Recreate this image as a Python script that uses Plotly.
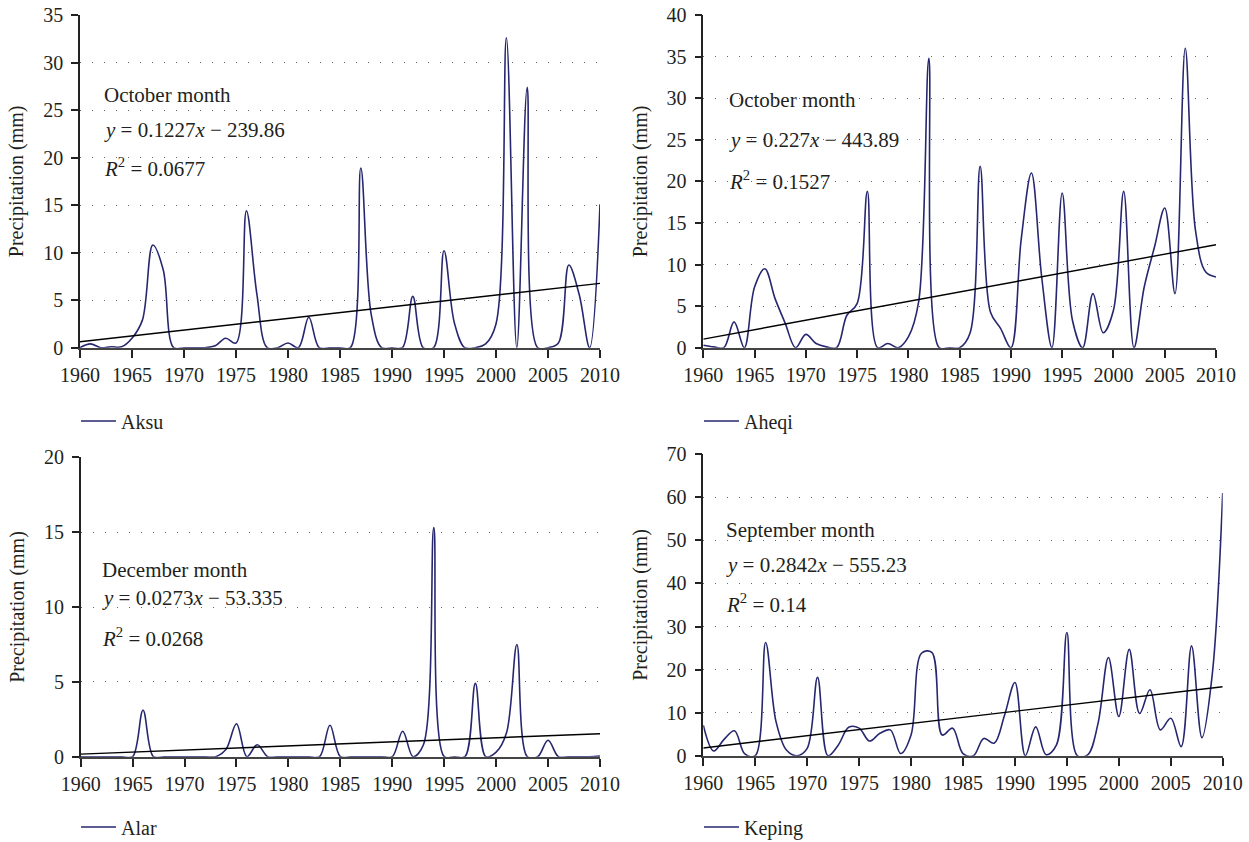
import plotly.graph_objects as go

years = list(range(1960, 2011))

stations = ["Aksu", "Aheqi", "Alar", "Keping"]

aksu = [0.0, 0.4, 0.0, 0.1, 0.1, 1.0, 2.9, 10.8, 8.2, 0.0,
        0.0, 0.0, 0.0, 0.2, 1.0, 0.5, 14.4, 5.7, 0.0, 0.0,
        0.5, 0.0, 3.2, 0.0, 0.0, 0.0, 0.0, 18.9, 3.5, 0.0,
        0.0, 0.0, 5.4, 0.0, 0.0, 10.2, 2.6, 0.0, 0.0, 0.4,
        2.5, 32.6, 0.0, 27.4, 0.0, 0.0, 0.5, 8.7, 5.6, 0.0, 15.1]

aheqi = [0.3, 0.1, 0.0, 3.1, 0.0, 7.3, 9.5, 5.9, 2.9, 0.0,
         1.6, 0.5, 0.1, 0.0, 3.9, 5.3, 18.8, 0.0, 0.5, 0.0,
         1.3, 5.5, 34.8, 0.0, 0.0, 0.0, 1.7, 21.8, 4.3, 2.3,
         0.0, 13.0, 21.0, 8.5, 0.0, 18.6, 3.3, 0.0, 6.5, 1.8,
         4.5, 18.8, 0.0, 7.3, 12.1, 16.8, 6.5, 36.0, 14.1, 9.1, 8.5]

alar = [0.0, 0.0, 0.0, 0.0, 0.0, 0.0, 3.1, 0.0, 0.0, 0.0,
        0.0, 0.0, 0.0, 0.0, 0.5, 2.2, 0.0, 0.8, 0.0, 0.0,
        0.0, 0.0, 0.0, 0.0, 2.1, 0.0, 0.0, 0.0, 0.0, 0.0,
        0.0, 1.7, 0.0, 0.8, 15.3, 0.0, 0.0, 0.0, 4.9, 0.0,
        0.3, 1.6, 7.5, 0.0, 0.0, 1.1, 0.0, 0.0, 0.0, 0.0, 0.05]

keping = [7.1, 1.1, 3.8, 5.8, 0.4, 0.0, 26.3, 7.9, 1.3, 0.0,
          1.7, 18.2, 0.0, 2.5, 6.6, 6.4, 3.4, 5.2, 6.0, 0.5,
          4.8, 23.8, 24.0, 4.8, 6.4, 0.5, 0.0, 4.0, 2.9, 9.4,
          17.0, 0.0, 6.7, 0.2, 2.5, 28.6, 0.0, 0.2, 7.5, 22.8,
          9.1, 24.7, 9.8, 15.3, 6.0, 8.7, 2.1, 25.5, 4.2, 19.0, 61.0]

series = [aksu, aheqi, alar, keping]

y_max = [35, 40, 20, 70]
y_dtick = [5, 5, 5, 10]
x_ticks = [1960, 1965, 1970, 1975, 1980, 1985, 1990, 1995, 2000, 2005, 2010]

month_labels = ["October month", "October month", "December month", "September month"]
slopes = [0.1227, 0.227, 0.0273, 0.2842]
intercepts = [-239.86, -443.89, -53.335, -555.23]
slope_txt = ["0.1227", "0.227", "0.0273", "0.2842"]
intercept_txt = ["239.86", "443.89", "53.335", "555.23"]
r2_txt = ["0.0677", "0.1527", "0.0268", "0.14"]

# ---------------- layout helpers (pixels -> paper) ----------------
W, H = 1249, 842
FONT = "Liberation Serif"
TXT = "#231f20"
LINE_COLOR = "#27276f"

def px_x(p):
    return p / W

def px_y(p):
    return 1 - p / H

# plot areas in pixels: (left, right, top, bottom)
areas = [(80, 600, 15, 347.7),
         (703.3, 1216, 15, 347.7),
         (80.7, 600, 457.3, 756.7),
         (703.3, 1222.7, 454.3, 755.7)]

# annotation anchor positions (pixels): x, [y month, y eq, y r2]
ann_pos = [(102, [95, 130, 167]),
           (727, [100, 140, 180]),
           (100, [570, 598, 637]),
           (724, [530, 565, 603])]

legend_pos = [(76, 421), (699, 421), (76, 827), (699, 827)]

fig = go.Figure()

for i in range(4):
    sfx = "" if i == 0 else str(i + 1)
    leg = "legend" if i == 0 else "legend" + str(i + 1)
    fig.add_trace(go.Scatter(
        x=years, y=series[i], mode="lines", name=stations[i],
        line=dict(color=LINE_COLOR, width=1.6, shape="spline", smoothing=1.0),
        xaxis="x" + sfx, yaxis="y" + sfx, legend=leg, showlegend=True))
    tx = [years[0], years[-1]]
    ty = [slopes[i] * x + intercepts[i] for x in tx]
    fig.add_trace(go.Scatter(
        x=tx, y=ty, mode="lines", line=dict(color="black", width=1.4),
        xaxis="x" + sfx, yaxis="y" + sfx, showlegend=False, hoverinfo="skip"))

layout = dict(
    width=W, height=H,
    margin=dict(l=0, r=0, t=0, b=0, autoexpand=False),
    paper_bgcolor="white", plot_bgcolor="white",
    font=dict(family=FONT, size=20, color=TXT),
    annotations=[],
)

for i in range(4):
    l, r, t, b = areas[i]
    sfx = "" if i == 0 else str(i + 1)
    layout["xaxis" + sfx] = dict(
        domain=[px_x(l), px_x(r)], anchor="y" + sfx,
        range=[1960, 2010], tickvals=x_ticks,
        showline=True, linecolor="#444", linewidth=1.8,
        ticks="outside", ticklen=8, tickwidth=1.5, tickcolor="#222",
        showgrid=False, zeroline=False, automargin=False,
        tickfont=dict(family=FONT, size=20, color=TXT),
        ticklabelstandoff=0,
    )
    layout["yaxis" + sfx] = dict(
        domain=[px_y(b), px_y(t)], anchor="x" + sfx,
        range=[0, y_max[i]], dtick=y_dtick[i], tick0=0,
        showline=True, linecolor="#222", linewidth=1.5,
        ticks="outside", ticklen=7, tickwidth=1.5, tickcolor="#222",
        showgrid=True, gridcolor="#666", gridwidth=1.2, griddash="1px,11px",
        zeroline=False, automargin=False,
        tickfont=dict(family=FONT, size=20, color=TXT),
        ticklabelstandoff=4,
        title=dict(text="Precipitation (mm)", font=dict(family=FONT, size=20, color=TXT),
                   standoff=14),
    )
    ax, ays = ann_pos[i]
    texts = [month_labels[i],
             "<i>y</i> = " + slope_txt[i] + "<i>x</i> − " + intercept_txt[i],
             "<i>R</i><sup>2</sup> = " + r2_txt[i]]
    for txt, ay in zip(texts, ays):
        layout["annotations"].append(dict(
            text=txt, x=px_x(ax), y=px_y(ay), xref="paper", yref="paper",
            xanchor="left", yanchor="middle", showarrow=False,
            font=dict(family=FONT, size=21, color=TXT)))
    lx, ly = legend_pos[i]
    leg = "legend" if i == 0 else "legend" + str(i + 1)
    layout[leg] = dict(
        x=px_x(lx), y=px_y(ly), xanchor="left", yanchor="middle",
        xref="paper", yref="paper", bgcolor="rgba(0,0,0,0)",
        font=dict(family=FONT, size=20, color=TXT),
        itemwidth=35, borderwidth=0,
    )

fig.update_layout(**layout)
fig.write_html("out.html")
